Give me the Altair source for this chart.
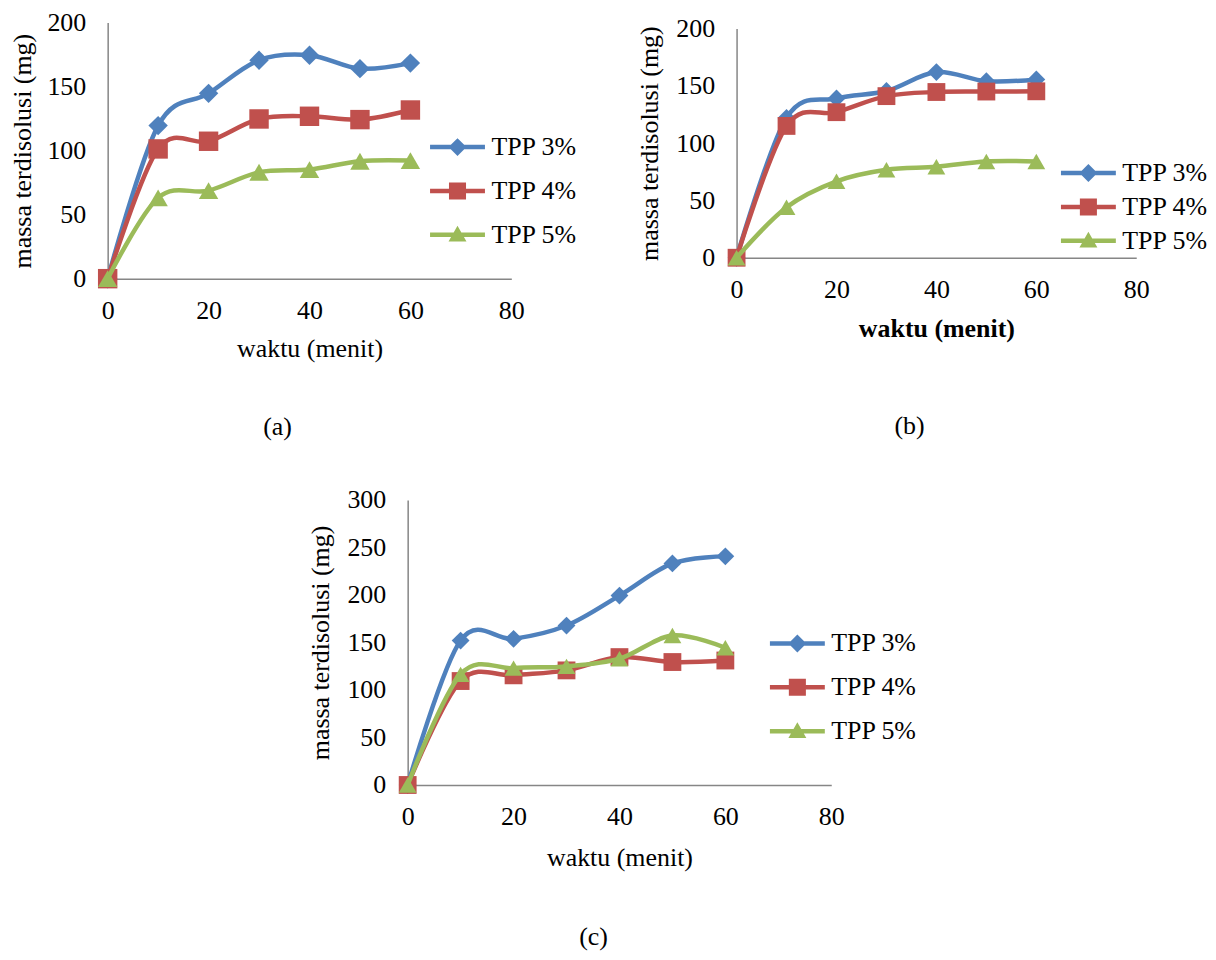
import altair as alt
import pandas as pd

# ---------------- data ----------------
TIME = [0, 10, 20, 30, 40, 50, 60]
SERIES = ["TPP 3%", "TPP 4%", "TPP 5%"]
COLORS = ["#4F81BD", "#C0504D", "#9BBB59"]
SHAPES = ["diamond", "square", "triangle-up"]

A_TPP3 = [0, 119.5, 144.7, 170.6, 174.5, 164.0, 168.3]
A_TPP4 = [0, 101.3, 107.3, 124.7, 126.8, 124.2, 131.7]
A_TPP5 = [0, 63.1, 68.8, 83.1, 85.2, 91.7, 92.2]

B_TPP3 = [0, 122.0, 139.0, 145.5, 162.0, 154.0, 155.6]
B_TPP4 = [0, 115.0, 127.0, 141.0, 144.6, 145.0, 145.2]
B_TPP5 = [0, 44.0, 66.7, 76.8, 79.4, 84.0, 84.0]

C_TPP3 = [0, 152.0, 153.8, 167.8, 199.3, 233.2, 240.6]
C_TPP4 = [0, 109.4, 115.4, 120.6, 134.6, 129.4, 131.0]
C_TPP5 = [0, 116.4, 123.0, 124.8, 132.9, 157.3, 144.4]

X_TICKS = [0, 20, 40, 60, 80]
X_TITLE = "waktu (menit)"
Y_TITLE = "massa terdisolusi (mg)"

FONT = "Liberation Serif"
AXIS_GREY = "#868686"

# legend symbols: line segment + marker (Excel style)
LEG_LINE = "M-3.06,-0.25H3.06V0.25H-3.06Z"
LEG_PATHS = [
    LEG_LINE + "M0,-1L1,0L0,1L-1,0Z",
    LEG_LINE + "M-0.95,-0.95H0.95V0.95H-0.95Z",
    LEG_LINE + "M0,-1L1,0.75L-1,0.75Z",
]


def panel(t3, t4, t5, ymax, width, height, caption, cap_dx, cap_offset,
          xbold, xtp, ytp, leg_x, leg_y, row_pad, msize, lw):
    df = pd.DataFrame({
        "waktu": TIME * 3,
        "massa": list(t3) + list(t4) + list(t5),
        "seri": [s for s in SERIES for _ in TIME],
    })
    base = alt.Chart(df)
    color_scale = alt.Scale(domain=SERIES, range=COLORS)
    x = alt.X("waktu:Q",
              scale=alt.Scale(domain=[0, 80], nice=False, zero=False),
              axis=alt.Axis(values=X_TICKS, title=X_TITLE, grid=False, ticks=False,
                            domainColor=AXIS_GREY, domainWidth=1.5,
                            labelFont=FONT, labelFontSize=26, labelColor="black",
                            labelPadding=19, labelFlush=False,
                            titleFont=FONT, titleFontSize=26, titleColor="black",
                            titleFontWeight="bold" if xbold else "normal",
                            titlePadding=xtp))
    y = alt.Y("massa:Q",
              scale=alt.Scale(domain=[0, ymax], nice=False),
              axis=alt.Axis(values=list(range(0, ymax + 1, 50)), title=Y_TITLE,
                            grid=False, ticks=False,
                            domainColor=AXIS_GREY, domainWidth=1.5,
                            labelFont=FONT, labelFontSize=26, labelColor="black",
                            labelPadding=22,
                            titleFont=FONT, titleFontSize=26, titleColor="black",
                            titleFontWeight="normal", titlePadding=ytp))

    layers = []
    for i, (s, sh, c) in enumerate(zip(SERIES, SHAPES, COLORS)):
        sub = base.transform_filter(alt.datum.seri == s)
        if i == 0:
            layers.append(sub.mark_line(interpolate="cardinal", strokeWidth=lw,
                                        color=c).encode(x=x, y=y))
        else:
            layers.append(sub.mark_line(interpolate="cardinal", strokeWidth=lw,
                                        color=c).encode(x="waktu:Q", y="massa:Q"))
        layers.append(sub.mark_point(shape=sh, filled=True, size=msize, opacity=1,
                                     color=c, strokeWidth=0)
                      .encode(x="waktu:Q", y="massa:Q"))
    leg_props = dict(title=None, orient="none", legendX=leg_x, legendY=leg_y,
                     labelFont=FONT, labelFontSize=26, labelColor="black",
                     labelOffset=21, symbolSize=324, symbolStrokeWidth=0,
                     symbolOpacity=1, rowPadding=row_pad, padding=0)
    legend = base.mark_point(filled=True, clip=True).encode(
        x=alt.value(-2000), y=alt.value(-2000),
        color=alt.Color("seri:N", scale=color_scale, legend=alt.Legend(**leg_props)),
        shape=alt.Shape("seri:N", scale=alt.Scale(domain=SERIES, range=LEG_PATHS),
                        legend=alt.Legend(**leg_props)))
    layers.append(legend)
    return alt.layer(*layers).properties(
        width=width, height=height,
        title=alt.TitleParams(text=caption, orient="bottom", anchor="middle",
                              frame="group", dx=cap_dx, offset=cap_offset,
                              font=FONT, fontSize=26, fontWeight="normal",
                              color="black"))


A = panel(A_TPP3, A_TPP4, A_TPP5, 200, 405, 257, "(a)", -32, 53, False, 12, 11,
          338, 112, 18, 380, 4.5)
B = panel(B_TPP3, B_TPP4, B_TPP5, 200, 401, 230, "(b)", -27, 72, True, 13, 13,
          340, 132, 8, 320, 4.5)
C = panel(C_TPP3, C_TPP4, C_TPP5, 300, 425, 286, "(c)", -26, 54, False, 15, 13,
          378, 131, 18, 320, 4.5)


def spacer(w, h):
    return alt.Chart(pd.DataFrame({"v": [0]})).mark_point(
        opacity=0, size=0, strokeWidth=0).encode(
        x=alt.value(0), y=alt.value(0)).properties(width=w, height=h)


def indep(ch):
    return ch.resolve_scale(color="independent", shape="independent").resolve_legend(
        color="independent", shape="independent")


B_col = indep(alt.vconcat(spacer(1, 6), B, spacing=0, bounds="flush"))
top = indep(alt.hconcat(A, B_col, spacing=226, bounds="flush"))
bottom = indep(alt.hconcat(spacer(301, 1), C, spacing=0, bounds="flush"))
chart = indep(alt.vconcat(top, bottom, spacing=479, bounds="flush")).properties(
    padding={"left": 1, "top": 0, "right": 0, "bottom": 0}
).configure_view(stroke=None).configure_legend(
    labelFont=FONT, labelFontSize=26, labelColor="black")

chart.save("out.html", embed_options={"renderer": "svg", "actions": False})
